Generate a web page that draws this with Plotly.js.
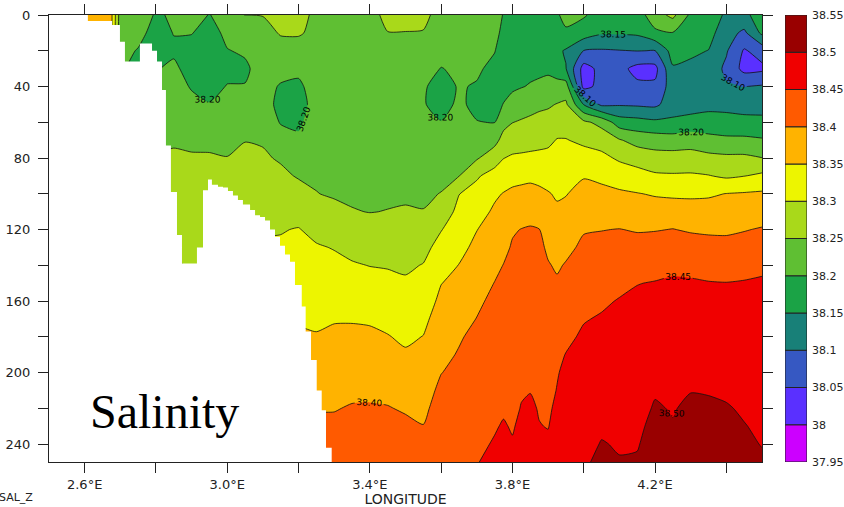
<!DOCTYPE html>
<html><head><meta charset="utf-8">
<script src="https://cdn.plot.ly/plotly-3.0.1.min.js"></script>
<style>html,body{margin:0;padding:0;background:#fff;overflow:hidden}#chart{width:844px;height:507px}</style>
</head><body><div id="chart"></div>
<script>
// Longitudes (deg E) of the profiles
const longitudes = [2.50, 2.60, 2.65, 2.675, 2.70, 2.75, 2.80, 2.85, 2.90, 2.95, 3.00, 3.05, 3.10, 3.15, 3.20, 3.25, 3.30, 3.35, 3.40, 3.45, 3.50, 3.55, 3.60, 3.65, 3.70, 3.75, 3.775, 3.80, 3.825, 3.85, 3.875, 3.90, 3.925, 3.95, 4.00, 4.05, 4.10, 4.15, 4.20, 4.25, 4.30, 4.35, 4.40, 4.45, 4.50];
// Depths (m)
const depths = [0, 10, 20, 30, 40, 50, 60, 70, 80, 90, 100, 110, 120, 130, 140, 150, 160, 170, 180, 190, 200, 210, 220, 230, 240, 250];
// Salinity profiles, one per longitude, values at each depth
const salinityByLongitude = [
[38.37,38.37,38.37,38.37,38.37,38.37,38.37,38.37,38.37,38.37,38.37,38.37,38.37,38.37,38.37,38.37,38.37,38.37,38.37,38.37,38.37,38.37,38.37,38.37,38.37,38.37],
[38.37,38.37,38.37,38.37,38.37,38.37,38.37,38.37,38.37,38.37,38.37,38.37,38.37,38.37,38.37,38.37,38.37,38.37,38.37,38.37,38.37,38.37,38.37,38.37,38.37,38.37],
[38.37,38.37,38.37,38.37,38.37,38.37,38.37,38.37,38.37,38.37,38.37,38.37,38.37,38.37,38.37,38.37,38.37,38.37,38.37,38.37,38.37,38.37,38.37,38.37,38.37,38.37],
[38.36,38.36,38.36,38.36,38.36,38.36,38.36,38.36,38.36,38.36,38.36,38.36,38.36,38.36,38.36,38.36,38.36,38.36,38.36,38.36,38.36,38.36,38.36,38.36,38.36,38.36],
[38.225,38.218,38.21,38.205,38.205,38.21,38.22,38.235,38.251,38.26,38.27,38.28,38.29,38.301,38.31,38.32,38.33,38.34,38.351,38.36,38.37,38.38,38.39,38.401,38.41,38.42],
[38.222,38.21,38.198,38.19,38.19,38.201,38.215,38.235,38.251,38.26,38.27,38.28,38.29,38.301,38.31,38.32,38.33,38.34,38.351,38.36,38.37,38.38,38.39,38.401,38.41,38.42],
[38.196,38.188,38.186,38.198,38.208,38.218,38.228,38.24,38.253,38.262,38.27,38.28,38.29,38.301,38.31,38.32,38.33,38.34,38.351,38.36,38.37,38.38,38.39,38.401,38.41,38.42],
[38.204,38.201,38.195,38.206,38.215,38.225,38.236,38.246,38.255,38.262,38.27,38.28,38.29,38.301,38.31,38.32,38.33,38.34,38.351,38.36,38.37,38.38,38.39,38.401,38.41,38.42],
[38.21,38.201,38.19,38.188,38.197,38.21,38.226,38.242,38.254,38.26,38.266,38.272,38.278,38.284,38.29,38.301,38.31,38.32,38.33,38.34,38.351,38.36,38.37,38.38,38.39,38.401],
[38.199,38.19,38.185,38.185,38.193,38.201,38.22,38.241,38.254,38.262,38.27,38.278,38.286,38.294,38.301,38.31,38.32,38.33,38.34,38.351,38.36,38.37,38.38,38.39,38.401,38.41],
[38.212,38.206,38.199,38.194,38.201,38.213,38.226,38.24,38.251,38.258,38.265,38.272,38.28,38.29,38.301,38.31,38.32,38.33,38.34,38.351,38.36,38.37,38.38,38.39,38.401,38.41],
[38.252,38.215,38.203,38.196,38.201,38.215,38.232,38.249,38.258,38.265,38.272,38.279,38.287,38.295,38.302,38.31,38.32,38.33,38.34,38.351,38.36,38.37,38.38,38.39,38.401,38.41],
[38.252,38.228,38.215,38.21,38.208,38.215,38.23,38.246,38.256,38.266,38.276,38.286,38.296,38.305,38.315,38.325,38.335,38.345,38.355,38.365,38.375,38.385,38.395,38.405,38.415,38.425],
[38.265,38.255,38.225,38.208,38.198,38.19,38.197,38.22,38.245,38.26,38.272,38.285,38.298,38.305,38.312,38.32,38.33,38.34,38.351,38.36,38.37,38.38,38.39,38.401,38.41,38.42],
[38.265,38.256,38.225,38.206,38.195,38.19,38.195,38.205,38.227,38.246,38.268,38.284,38.302,38.31,38.319,38.328,38.337,38.346,38.355,38.365,38.375,38.385,38.395,38.405,38.415,38.425],
[38.24,38.236,38.225,38.218,38.212,38.21,38.215,38.225,38.235,38.245,38.251,38.27,38.288,38.304,38.312,38.321,38.33,38.345,38.352,38.363,38.375,38.386,38.397,38.41,38.42,38.43],
[38.235,38.232,38.225,38.218,38.213,38.212,38.215,38.222,38.23,38.238,38.246,38.26,38.279,38.298,38.31,38.322,38.335,38.347,38.358,38.368,38.378,38.388,38.398,38.408,38.418,38.428],
[38.235,38.232,38.226,38.22,38.215,38.213,38.215,38.22,38.228,38.236,38.244,38.252,38.27,38.288,38.304,38.318,38.332,38.347,38.359,38.37,38.381,38.392,38.403,38.412,38.42,38.428],
[38.235,38.232,38.227,38.222,38.217,38.215,38.216,38.22,38.227,38.234,38.242,38.249,38.267,38.283,38.299,38.315,38.33,38.345,38.358,38.369,38.381,38.392,38.404,38.413,38.421,38.429],
[38.262,38.249,38.236,38.228,38.222,38.218,38.218,38.222,38.228,38.236,38.244,38.251,38.266,38.282,38.297,38.311,38.325,38.339,38.352,38.365,38.378,38.39,38.402,38.412,38.42,38.428],
[38.262,38.249,38.236,38.228,38.222,38.219,38.219,38.223,38.23,38.237,38.245,38.253,38.265,38.279,38.293,38.306,38.318,38.33,38.343,38.355,38.369,38.382,38.396,38.408,38.417,38.425],
[38.26,38.248,38.228,38.212,38.203,38.202,38.208,38.218,38.228,38.238,38.245,38.251,38.268,38.286,38.302,38.315,38.327,38.34,38.351,38.361,38.371,38.381,38.391,38.401,38.41,38.418],
[38.235,38.225,38.212,38.199,38.19,38.19,38.201,38.215,38.23,38.242,38.251,38.274,38.298,38.317,38.333,38.349,38.36,38.37,38.38,38.39,38.399,38.41,38.418,38.426,38.432,38.438],
[38.23,38.222,38.213,38.205,38.202,38.205,38.215,38.228,38.239,38.249,38.299,38.312,38.325,38.338,38.351,38.362,38.373,38.385,38.396,38.403,38.411,38.418,38.425,38.432,38.438,38.444],
[38.23,38.22,38.212,38.204,38.198,38.193,38.201,38.225,38.245,38.295,38.315,38.332,38.349,38.36,38.37,38.381,38.392,38.401,38.41,38.418,38.425,38.431,38.436,38.441,38.445,38.449],
[38.215,38.208,38.201,38.193,38.188,38.19,38.199,38.234,38.28,38.317,38.343,38.357,38.368,38.379,38.39,38.401,38.41,38.417,38.423,38.429,38.434,38.439,38.444,38.448,38.452,38.456],
[38.198,38.193,38.188,38.186,38.19,38.201,38.235,38.267,38.299,38.328,38.352,38.365,38.377,38.39,38.401,38.408,38.414,38.42,38.426,38.432,38.437,38.442,38.447,38.452,38.456,38.46],
[38.195,38.19,38.185,38.185,38.192,38.218,38.249,38.278,38.306,38.335,38.359,38.378,38.396,38.404,38.41,38.415,38.42,38.425,38.429,38.433,38.437,38.441,38.445,38.448,38.452,38.456],
[38.195,38.19,38.186,38.186,38.198,38.225,38.255,38.28,38.308,38.338,38.362,38.382,38.401,38.41,38.418,38.424,38.429,38.433,38.437,38.441,38.445,38.448,38.451,38.455,38.459,38.462],
[38.195,38.19,38.187,38.19,38.203,38.233,38.26,38.283,38.31,38.34,38.365,38.388,38.403,38.412,38.42,38.426,38.431,38.436,38.44,38.444,38.447,38.449,38.455,38.458,38.461,38.464],
[38.195,38.19,38.188,38.193,38.206,38.24,38.265,38.288,38.31,38.337,38.36,38.383,38.401,38.41,38.417,38.423,38.428,38.432,38.436,38.44,38.443,38.446,38.448,38.451,38.455,38.459],
[38.196,38.19,38.188,38.193,38.212,38.244,38.268,38.291,38.312,38.333,38.353,38.366,38.38,38.393,38.403,38.41,38.417,38.423,38.428,38.433,38.438,38.442,38.446,38.449,38.455,38.46],
[38.196,38.185,38.16,38.18,38.215,38.252,38.28,38.302,38.318,38.332,38.345,38.357,38.37,38.382,38.395,38.405,38.417,38.428,38.436,38.443,38.448,38.451,38.455,38.459,38.463,38.467],
[38.21,38.195,38.145,38.152,38.222,38.258,38.28,38.302,38.317,38.333,38.348,38.362,38.376,38.39,38.403,38.414,38.425,38.435,38.443,38.451,38.456,38.461,38.466,38.47,38.474,38.478],
[38.205,38.175,38.099,38.03,38.035,38.148,38.26,38.291,38.318,38.347,38.365,38.381,38.397,38.408,38.418,38.428,38.438,38.448,38.455,38.461,38.467,38.472,38.477,38.482,38.488,38.495],
[38.18,38.155,38.095,38.065,38.065,38.09,38.235,38.28,38.312,38.34,38.362,38.381,38.399,38.411,38.422,38.434,38.445,38.453,38.46,38.466,38.472,38.479,38.486,38.494,38.502,38.508],
[38.175,38.155,38.098,38.065,38.062,38.095,38.175,38.254,38.293,38.328,38.357,38.378,38.401,38.414,38.428,38.442,38.452,38.458,38.464,38.47,38.476,38.482,38.488,38.493,38.497,38.502],
[38.175,38.158,38.101,38.035,38.06,38.093,38.168,38.232,38.281,38.318,38.352,38.374,38.397,38.415,38.432,38.449,38.457,38.463,38.468,38.474,38.479,38.484,38.489,38.494,38.498,38.503],
[38.23,38.19,38.099,38.035,38.06,38.09,38.16,38.226,38.27,38.307,38.346,38.372,38.398,38.418,38.436,38.452,38.462,38.469,38.476,38.483,38.49,38.497,38.503,38.508,38.512,38.516],
[38.262,38.198,38.17,38.145,38.125,38.125,38.16,38.222,38.27,38.305,38.341,38.378,38.401,38.421,38.442,38.455,38.465,38.473,38.48,38.486,38.491,38.495,38.498,38.502,38.506,38.51],
[38.19,38.175,38.158,38.14,38.125,38.128,38.168,38.228,38.27,38.306,38.341,38.373,38.396,38.418,38.438,38.455,38.464,38.472,38.479,38.486,38.493,38.499,38.506,38.511,38.515,38.519],
[38.185,38.168,38.149,38.13,38.12,38.135,38.172,38.215,38.264,38.302,38.344,38.37,38.394,38.414,38.434,38.452,38.461,38.469,38.476,38.484,38.491,38.498,38.505,38.51,38.514,38.518],
[38.14,38.12,38.105,38.09,38.105,38.135,38.168,38.21,38.26,38.293,38.351,38.372,38.394,38.412,38.432,38.451,38.46,38.468,38.476,38.484,38.49,38.496,38.502,38.507,38.511,38.515],
[38.14,38.09,38.045,38.035,38.099,38.13,38.165,38.21,38.26,38.299,38.354,38.376,38.398,38.416,38.435,38.453,38.461,38.469,38.476,38.482,38.488,38.493,38.497,38.501,38.505,38.509],
[38.17,38.16,38.07,38.04,38.105,38.132,38.162,38.205,38.251,38.31,38.357,38.382,38.403,38.422,38.442,38.455,38.462,38.468,38.474,38.48,38.485,38.489,38.493,38.496,38.499,38.504]
];
// Contour levels and colour key
const levels = [37.95, 38.00, 38.05, 38.10, 38.15, 38.20, 38.25, 38.30, 38.35, 38.40, 38.45, 38.50, 38.55];
const levelLabels = ['37.95', '38', '38.05', '38.1', '38.15', '38.2', '38.25', '38.3', '38.35', '38.4', '38.45', '38.5', '38.55'];
const bandColors = ['#cc00ff', '#5a30ff', '#3658c2', '#188078', '#1ba346', '#5fbf33', '#a9d91a', '#edf500', '#ffb300', '#ff5a00', '#f00000', '#990000'];
// No-data region: left edge lon of each step and the deepest depth with data
const maskLon = [2.500, 2.609, 2.677, 2.699, 2.713, 2.755, 2.789, 2.803, 2.817, 2.828, 2.842, 2.859, 2.873, 2.915, 2.932, 2.946, 2.957, 2.974, 2.988, 3.002, 3.016, 3.030, 3.044, 3.064, 3.078, 3.092, 3.106, 3.120, 3.134, 3.148, 3.162, 3.176, 3.190, 3.209, 3.220, 3.235, 3.251, 3.265, 3.277, 3.293];
const maskDepth = [0, 3.4, 5.6, 15, 26, 16, 20, 26, 42, 73, 99, 123, 139, 130, 98, 92, 95, 96, 96.5, 98.5, 101, 103.5, 106, 109, 112, 113, 115, 120, 124, 129, 134, 138, 151, 163, 177, 193, 210, 221, 242, 250];
// Axis ticks
const xTickVals = [2.6, 2.8, 3.0, 3.2, 3.4, 3.6, 3.8, 4.0, 4.2, 4.4];
const xTickText = ['2.6°E', '', '3.0°E', '', '3.4°E', '', '3.8°E', '', '4.2°E', ''];
const yTickVals = [0, 20, 40, 60, 80, 100, 120, 140, 160, 180, 200, 220, 240];
const yTickText = ['0', '', '40', '', '80', '', '120', '', '160', '', '200', '', '240'];

const lonRange = [2.5, 4.5];
const depthRange = [250, 0];

const z = depths.map((d, i) => longitudes.map((l, j) => salinityByLongitude[j][i]));
const nb = bandColors.length;
const colorscale = bandColors.map((c, k) => [k / (nb - 1), c]);

const contourTrace = {
  type: 'contour', x: longitudes, y: depths, z: z,
  autocontour: false,
  contours: {start: levels[1], end: levels[levels.length - 2], size: 0.05, coloring: 'fill',
    showlines: true, showlabels: true, labelformat: '.2f',
    labelfont: {family: 'DejaVu Sans', size: 9, color: '#000'}},
  line: {color: '#111', width: 0.8, smoothing: 0.6},
  colorscale: colorscale, showscale: false, hoverinfo: 'skip'
};

const maskTrace = {
  type: 'scatter', mode: 'lines',
  x: maskLon.concat([lonRange[1], lonRange[0]]),
  y: maskDepth.concat([depthRange[0], depthRange[0]]),
  line: {width: 0, shape: 'hv', color: '#fff'},
  fill: 'toself', fillcolor: '#ffffff', hoverinfo: 'skip'
};

const keyTrace = {
  type: 'bar', xaxis: 'x2', yaxis: 'y2',
  x: bandColors.map(() => 0),
  y: levels.slice(1).map((v, i) => v - levels[i]),
  base: levels.slice(0, -1),
  width: 1,
  marker: {color: bandColors, line: {color: '#222', width: 1}},
  hoverinfo: 'skip'
};

const axisCommon = {
  ticks: 'outside', ticklen: 10, tickwidth: 1, tickcolor: '#222',
  showline: true, linecolor: '#222', linewidth: 1, mirror: 'allticks',
  showgrid: false, zeroline: false, tickfont: {size: 13, color: '#222'}
};

const layout = {
  width: 844, height: 507,
  margin: {l: 49, r: 37, t: 15, b: 45},
  paper_bgcolor: '#fff', plot_bgcolor: '#fff', showlegend: false,
  font: {family: 'DejaVu Sans', size: 12, color: '#222'},
  xaxis: Object.assign({}, axisCommon, {
    domain: [0, 0.9406], range: lonRange, tickmode: 'array', tickvals: xTickVals, ticktext: xTickText,
    title: {text: 'LONGITUDE', font: {size: 14, color: '#222'}, standoff: 3}
  }),
  yaxis: Object.assign({}, axisCommon, {
    range: depthRange, tickmode: 'array', tickvals: yTickVals, ticktext: yTickText, ticklabelstandoff: 5
  }),
  xaxis2: {domain: [0.971, 1], range: [-0.5, 0.5], visible: false, anchor: 'y2', fixedrange: true},
  yaxis2: {domain: [0, 1], anchor: 'x2', side: 'right', range: [levels[0], levels[levels.length - 1]],
    tickmode: 'array', tickvals: levels, ticktext: levelLabels, ticks: '', showline: false,
    showgrid: false, zeroline: false, tickfont: {size: 11, color: '#222'}, ticklabelstandoff: 4},
  bargap: 0,
  annotations: [
    {text: 'Salinity', xref: 'paper', yref: 'paper', x: 0.153, y: 0.112, xanchor: 'center', yanchor: 'middle',
     showarrow: false, font: {family: 'Liberation Serif', size: 48, color: '#000'}},
    {text: 'SAL_Z', xref: 'paper', yref: 'paper', x: -0.043, y: -0.08, xanchor: 'center', yanchor: 'middle',
     showarrow: false, font: {family: 'DejaVu Sans', size: 11, color: '#222'}}
  ]
};

Plotly.newPlot('chart', [contourTrace, maskTrace, keyTrace], layout, {staticPlot: true, displayModeBar: false});
</script></body></html>
